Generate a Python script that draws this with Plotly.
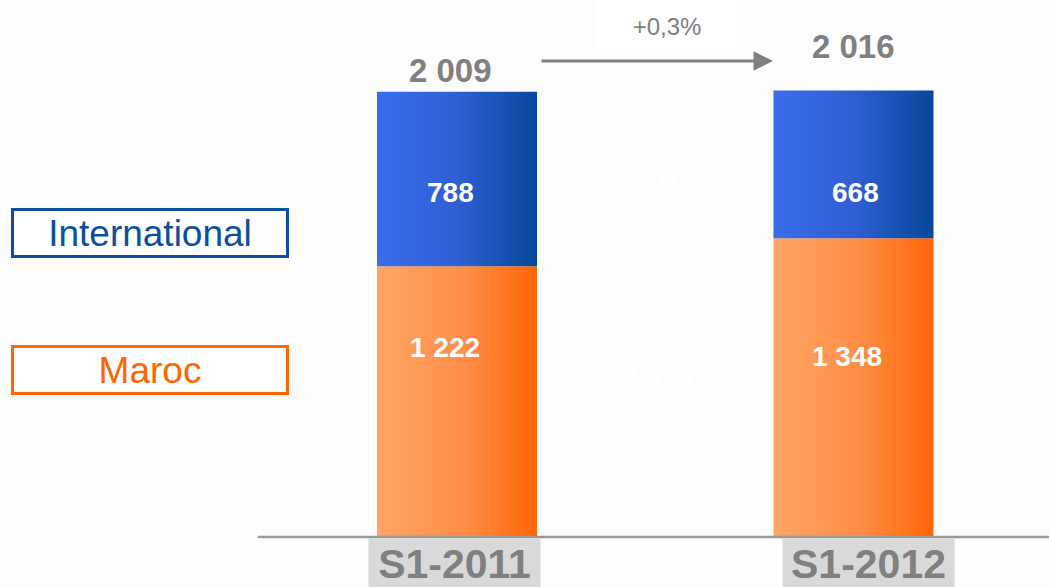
import plotly.graph_objects as go

# ---------------- data ----------------
categories = ["S1-2011", "S1-2012"]
maroc = [1222, 1348]
international = [788, 668]
totals = ["2 009", "2 016"]
maroc_labels = ["1 222", "1 348"]
intl_labels = ["788", "668"]
growth_label = "+0,3%"
ghost_labels = ["7 201", "18 618"]
series_names = ["International", "Maroc"]

# ---------------- style ----------------
W, H = 1049, 587
FONT = "Liberation Sans, Arial, sans-serif"
GREY = "#808080"
ORANGE_SCALE = [[0, "#FFA566"], [0.55, "#FF8D45"], [1, "#FF6506"]]
BLUE_SCALE = [[0, "#3A6DEC"], [0.5, "#2F5FD3"], [1, "#05489B"]]
BAR_HALF = 0.2018
X_RANGE = [-1.1526, 1.4931]
Y_RANGE = [-226, 2424]

fig = go.Figure()
xs = list(range(len(categories)))

def rect(i, base, top, scale):
    x0, x1 = xs[i] - BAR_HALF, xs[i] + BAR_HALF
    fig.add_trace(go.Scatter(
        x=[x0, x1, x1, x0, x0], y=[base, base, top, top, base],
        mode="lines", fill="toself", line=dict(width=0),
        fillgradient=dict(type="horizontal", colorscale=scale),
        hoverinfo="skip", showlegend=False))

for i in xs:
    rect(i, 0, maroc[i], ORANGE_SCALE)
    rect(i, maroc[i], maroc[i] + international[i], BLUE_SCALE)

def pa(px, py, **kw):
    d = dict(x=px / W, y=1 - py / H, xref="paper", yref="paper",
             xanchor="center", yanchor="middle", showarrow=False)
    d.update(kw)
    return d

ann = []
# value labels inside bars (pixel-tuned placements)
intl_y = [1553, 1553]
maroc_y = [853, 813]
for i in xs:
    ann.append(dict(x=xs[i], y=intl_y[i], text=f"<b>{intl_labels[i]}</b>", showarrow=False,
                    xanchor="center", yanchor="middle", xshift=[-7, 2][i],
                    font=dict(family=FONT, size=28, color="white")))
    ann.append(dict(x=xs[i], y=maroc_y[i], text=f"<b>{maroc_labels[i]}</b>", showarrow=False,
                    xanchor="center", yanchor="middle", xshift=[-12, -6][i],
                    font=dict(family=FONT, size=28, color="white")))
# totals
tot_y = [2108, 2212]
for i in xs:
    ann.append(dict(x=xs[i], y=tot_y[i], text=f"<b>{totals[i]}</b>", showarrow=False,
                    xanchor="center", yanchor="middle", xshift=[-7, 0][i],
                    font=dict(family=FONT, size=33, color=GREY)))
# category labels with grey boxes
for i in xs:
    ann.append(dict(x=xs[i], y=0, xanchor="center", yanchor="top", text=f"<b>{categories[i]}</b>",
                    showarrow=False, xshift=[-2.5, 15.5][i], yshift=-1, width=171, height=50,
                    borderpad=0, bgcolor="#D9D9D9", font=dict(family=FONT, size=41, color=GREY)))
# ghost labels (nearly invisible)
ann.append(pa(646, 180, text=f"<b>{ghost_labels[0]}</b>", font=dict(family=FONT, size=28, color="#FFFFFF")))
ann.append(pa(650, 375, text=f"<b>{ghost_labels[1]}</b>", font=dict(family=FONT, size=28, color="#FFFFFF")))
# growth label and arrow
ann.append(pa(667, 26, text=growth_label, width=138, height=52, bgcolor="#FFFFFF",
              font=dict(family=FONT, size=24, color=GREY)))
ann.append(dict(x=773 / W, y=1 - 61 / H, xref="paper", yref="paper", text="", showarrow=True,
                ax=-233, ay=0, arrowhead=2, arrowsize=1.3, arrowwidth=3, arrowcolor=GREY))
# legend boxes
leg_colors = ["#0B4F9E", "#FF6600"]
leg_y = [232.5, 369.5]
for k, name in enumerate(series_names):
    ann.append(pa(150, leg_y[k], text=name, width=272, height=44, borderpad=0, borderwidth=3,
                  bordercolor=leg_colors[k], bgcolor="#FFFFFF",
                  font=dict(family=FONT, size=37, color=leg_colors[k])))

fig.update_layout(
    width=W, height=H, margin=dict(l=0, r=0, t=0, b=0),
    paper_bgcolor="#FDFDFD", plot_bgcolor="#FDFDFD",
    xaxis=dict(range=X_RANGE, visible=False, fixedrange=True),
    yaxis=dict(range=Y_RANGE, visible=False, fixedrange=True),
    annotations=ann, showlegend=False,
    shapes=[dict(type="line", xref="paper", yref="y", x0=258 / W, x1=1, y0=0, y1=0,
                 line=dict(color="#999999", width=2.5), layer="above")],
)

fig.write_html("out.html", config={"displayModeBar": False},
               post_script="document.body.style.margin='0';document.body.style.overflow='hidden';")
